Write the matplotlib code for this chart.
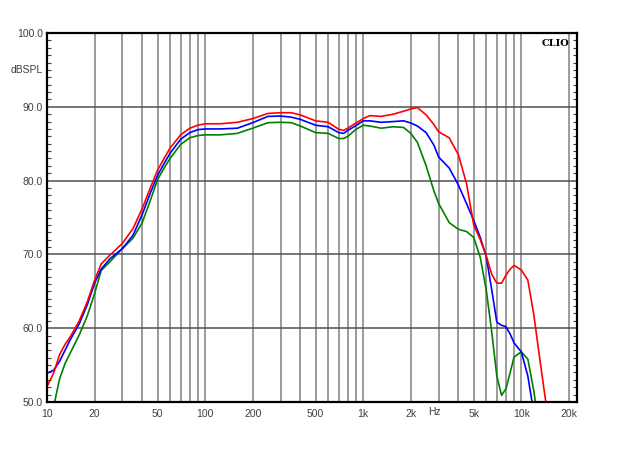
import matplotlib
matplotlib.use("Agg")
import matplotlib.pyplot as plt
from matplotlib.ticker import FixedLocator, MultipleLocator, NullLocator
import matplotlib.transforms as mtransforms

# frequency points (Hz)
freqs = [10, 11, 12, 13, 14, 16, 18, 20, 22, 25, 30, 35, 40, 45, 50, 55, 60, 70,
         80, 90, 100, 125, 160, 200, 250, 300, 350, 400, 500, 600, 700, 750, 800,
         900, 1000, 1100, 1300, 1550, 1800, 2000, 2200, 2500, 2800, 3000, 3500,
         4000, 4500, 5000, 5500, 6000, 6500, 7000, 7500, 8000, 8500, 9000, 10000,
         11000, 12000, 13000, 14000, 15000]

# SPL curves (dB)
red_db = [52.1, 53.9, 56.4, 57.8, 58.8, 61.0, 63.6, 66.5, 68.7, 69.9, 71.5, 73.5,
          76.2, 79.0, 81.4, 83.0, 84.4, 86.2, 87.1, 87.5, 87.7, 87.7, 87.9, 88.4,
          89.1, 89.2, 89.2, 88.9, 88.1, 87.9, 86.95, 86.8, 87.1, 87.8, 88.4, 88.8,
          88.7, 89.0, 89.4, 89.7, 89.9, 88.9, 87.6, 86.6, 85.8, 83.5, 79.6, 74.0,
          72.0, 69.8, 67.3, 66.1, 66.1, 67.2, 68.0, 68.5, 67.9, 66.5, 61.8, 56.3,
          51.3, 47.0]
blue_db = [53.9, 54.3, 55.5, 57.0, 58.4, 60.6, 63.2, 66.1, 68.0, 69.4, 70.8, 72.6,
           75.4, 78.3, 80.7, 82.3, 83.7, 85.6, 86.5, 86.9, 87.0, 87.0, 87.1, 87.85,
           88.7, 88.75, 88.6, 88.3, 87.5, 87.3, 86.5, 86.4, 86.8, 87.45, 88.1, 88.1,
           87.9, 88.0, 88.1, 87.8, 87.4, 86.5, 84.8, 83.2, 81.7, 79.4, 76.9, 74.6,
           72.3, 69.7, 65.2, 60.8, 60.4, 60.2, 59.2, 58.0, 56.8, 53.5, 48.5, 44.0,
           40.0, 38.0]
green_db = [45.5, 49.3, 53.1, 55.2, 56.6, 59.1, 61.7, 64.7, 67.8, 69.0, 70.8, 72.2,
            74.3, 77.3, 80.1, 81.7, 83.0, 84.9, 85.8, 86.1, 86.2, 86.2, 86.4, 87.1,
            87.85, 87.9, 87.85, 87.4, 86.5, 86.4, 85.7, 85.7, 86.0, 86.95, 87.5, 87.4,
            87.1, 87.3, 87.2, 86.4, 85.2, 82.0, 78.6, 76.9, 74.3, 73.4, 73.1, 72.3,
            69.6, 65.2, 59.5, 53.5, 50.9, 51.8, 54.0, 56.1, 56.8, 55.8, 51.5, 46.0,
            42.0, 40.0]

# axis labels
x_ticks = [10, 20, 50, 100, 200, 500, 1000, 2000, 5000, 10000, 20000]
x_labels = ["10", "20", "50", "100", "200", "500", "1k", "2k", "5k", "10k", "20k"]
y_ticks = [50, 60, 70, 80, 90, 100]

plt.rcParams['font.family'] = ['Liberation Sans', 'DejaVu Sans']

fig = plt.figure(figsize=(6.24, 4.68), dpi=100)
ax = fig.add_axes([47 / 624, 1 - 402 / 468, 530 / 624, 369 / 468])

# vertical grid at every 1-2-3...9 step
vgrid = [m * 10 ** e for e in range(1, 5) for m in range(1, 10) if m * 10 ** e <= 20000]
for f in vgrid:
    ax.axvline(f, color='#808080', lw=1.1, zorder=1)
for d in [60, 70, 80, 90]:
    ax.axhline(d, color='#505050', lw=1.1, zorder=1)

ax.plot(freqs, green_db, color='#008000', lw=1.2, zorder=3)
ax.plot(freqs, blue_db, color='#0000ff', lw=1.2, zorder=4)
ax.plot(freqs, red_db, color='#ff0000', lw=1.2, zorder=5)

ax.set_xscale('log')
ax.set_xlim(10, 22500)
ax.set_ylim(50, 100)

ax.xaxis.set_major_locator(FixedLocator(x_ticks))
ax.xaxis.set_minor_locator(NullLocator())
ax.set_xticklabels(x_labels)
ax.tick_params(axis='x', which='both', length=0, pad=5, labelsize=7.5, labelcolor='#404040')

ax.yaxis.set_major_locator(FixedLocator(y_ticks))
ax.yaxis.set_minor_locator(MultipleLocator(1))
ax.set_yticklabels(["%.1f" % v for v in y_ticks])
ax.tick_params(axis='y', which='both', direction='in', left=True, right=True,
               labelsize=7.5, labelcolor='#404040', pad=3)
ax.tick_params(axis='y', which='major', length=0)
ax.tick_params(axis='y', which='minor', length=3, width=0.8, color='#404040')

for s in ax.spines.values():
    s.set_linewidth(1.6)
    s.set_color('black')
    s.set_zorder(6)

# "Hz" next to 2k label
trans = mtransforms.blended_transform_factory(ax.transData, ax.transAxes)
ax.text(2570, -0.0135, "Hz", transform=trans, ha='left', va='top',
        fontsize=7.5, color='#404040', clip_on=False)

ax.text(-0.008, 95, "dBSPL", transform=mtransforms.blended_transform_factory(ax.transAxes, ax.transData),
        ha='right', va='center', fontsize=7.5, color='#404040')
ax.text(0.985, 0.985, "CLIO", transform=ax.transAxes, ha='right', va='top',
        fontsize=7, fontweight='bold', family='DejaVu Serif', color='black')

plt.savefig('out.png', dpi=100)
